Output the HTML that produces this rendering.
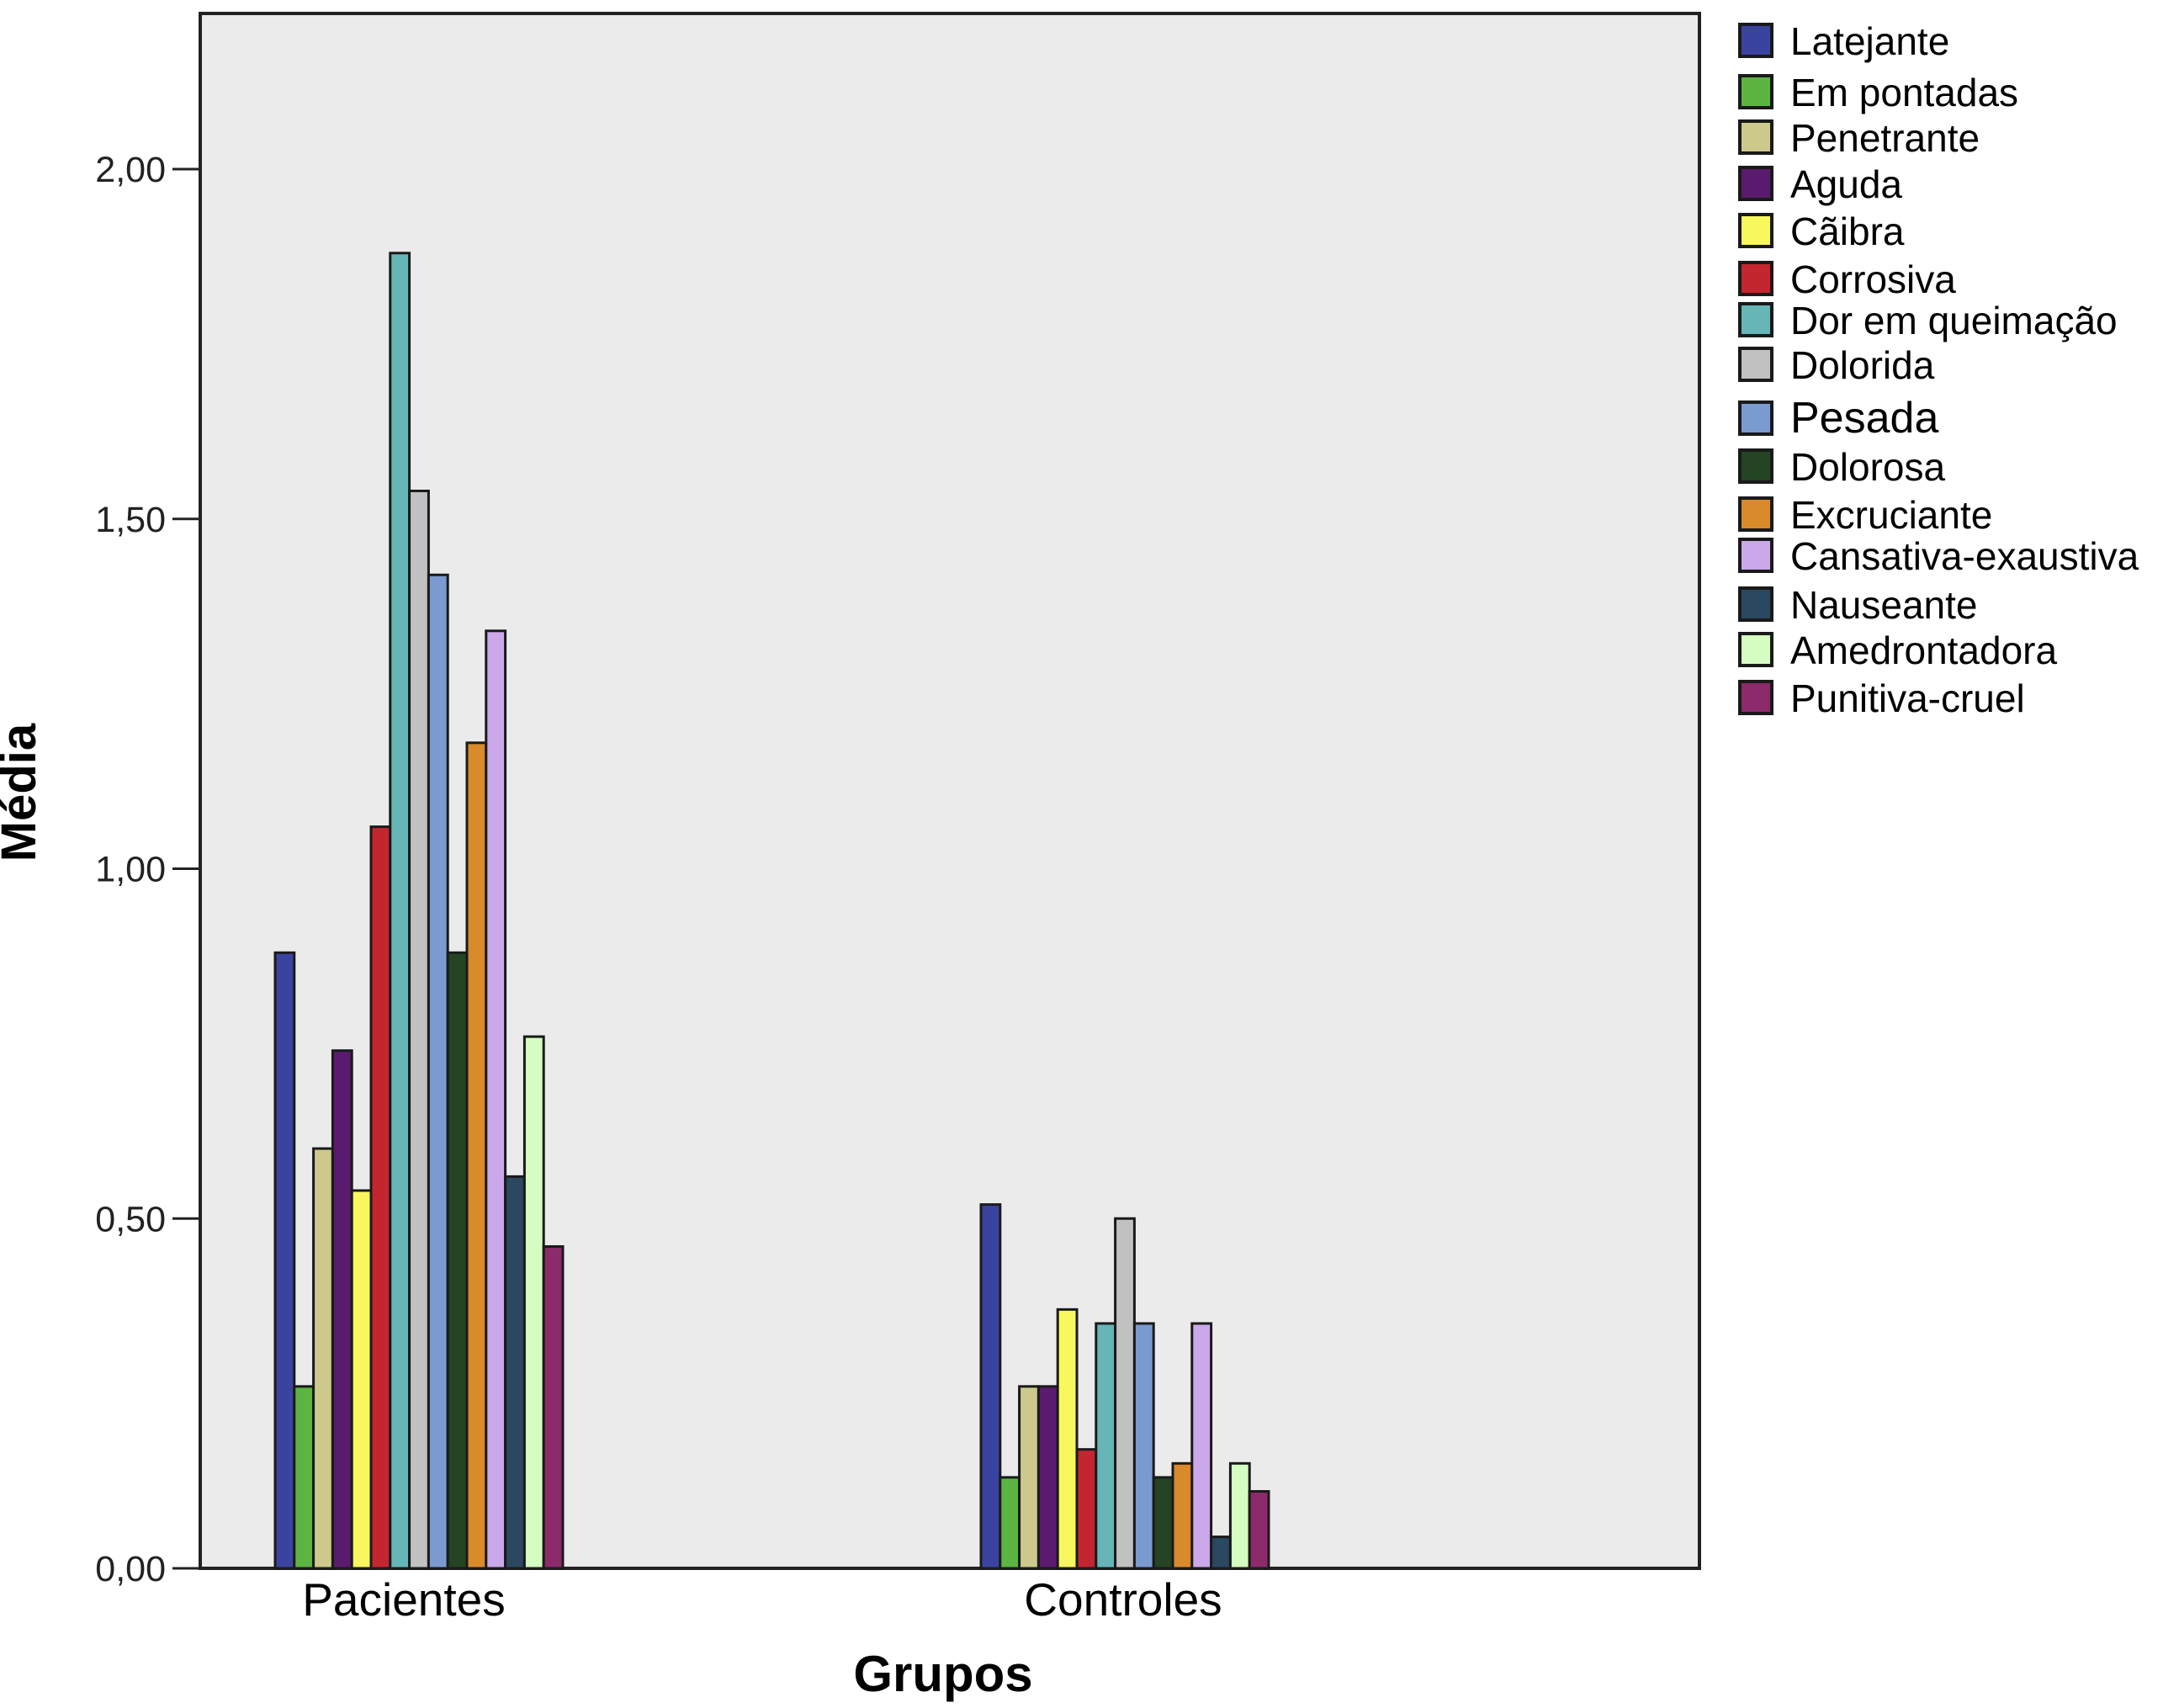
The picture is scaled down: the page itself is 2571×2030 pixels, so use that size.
<!DOCTYPE html>
<html><head><meta charset="utf-8"><style>
html,body{margin:0;padding:0;background:#fff;}
svg{display:block;font-family:"Liberation Sans",Arial,sans-serif;}
</style></head><body>
<svg id="chart" width="2571" height="2030" viewBox="0 0 2571 2030">
<rect x="238" y="16" width="1782" height="1848" fill="#ebebeb" stroke="#222" stroke-width="4"/>
<g id="yaxis"></g>
<g id="bars"></g>
<g id="xaxis"></g>
<g id="legend"></g>
<text x="42" y="942" transform="rotate(-90 42 942)" text-anchor="middle" font-size="58" font-weight="bold">Média</text>
<text x="1121" y="2010" text-anchor="middle" font-size="60" font-weight="bold">Grupos</text>
</svg>
<script>
const categories = ["Pacientes","Controles"];
const seriesNames = ["Latejante","Em pontadas","Penetrante","Aguda","Cãibra","Corrosiva","Dor em queimação","Dolorida","Pesada","Dolorosa","Excruciante","Cansativa-exaustiva","Nauseante","Amedrontadora","Punitiva-cruel"];
const seriesColors = ["#3a44a0","#5cb443","#cdc98c","#5a1b6e","#f8f85e","#c4262f","#66b6b8","#c1c1c1","#7b9ad0","#244424","#d98a2b","#cba8e9","#2a4860","#d6fdc1","#8c2a6c"];
const pacientesValues = [0.88,0.26,0.60,0.74,0.54,1.06,1.88,1.54,1.42,0.88,1.18,1.34,0.56,0.76,0.46];
const controlesValues = [0.52,0.13,0.26,0.26,0.37,0.17,0.35,0.50,0.35,0.13,0.15,0.35,0.045,0.15,0.11];
const yTicks = [0,0.5,1.0,1.5,2.0];
const yTickLabels = ["0,00","0,50","1,00","1,50","2,00"];

const NS="http://www.w3.org/2000/svg";
const y0=1864, pxPerUnit=831.5;
function yScale(v){return y0 - v*pxPerUnit;}
const groupLeft=[327,1166], barW=22.8;
const labelOffset=[-18,-2];
function xScale(gi,si){return groupLeft[gi]+si*barW;}
function mk(tag,attrs,parent){const e=document.createElementNS(NS,tag);for(const k in attrs)e.setAttribute(k,attrs[k]);parent.appendChild(e);return e;}

const yg=document.getElementById('yaxis');
yTicks.forEach((t,i)=>{
  const l=mk('line',{x1:205,x2:238,y1:yScale(t),y2:yScale(t),stroke:'#222','stroke-width':3},yg);
  
  
  const tx=mk('text',{x:197,y:yScale(t)+15,'text-anchor':'end','font-size':43,fill:'#222'},yg);
  tx.textContent=yTickLabels[i];
  
  
});

const bg=document.getElementById('bars');
[pacientesValues,controlesValues].forEach((vals,gi)=>{
  vals.forEach((v,si)=>{
    const r=mk('rect',{x:xScale(gi,si),y:yScale(v),width:barW,height:y0-yScale(v),fill:seriesColors[si],stroke:'#1a1a1a','stroke-width':3},bg);
    
    
  });
});

const xg=document.getElementById('xaxis');
categories.forEach((c,gi)=>{
  const cx=groupLeft[gi]+barW*7.5+labelOffset[gi];
  const tx=mk('text',{x:cx,y:1920,'text-anchor':'middle','font-size':55},xg);
  tx.textContent=c;
  
  
});

const lg=document.getElementById('legend');
const legendY=[49,110,164,219,275,332,381,434,498,555,612,661,719,773,830];
seriesNames.forEach((n,i)=>{
  const r=mk('rect',{x:2068,y:legendY[i]-20,width:38,height:38,fill:seriesColors[i],stroke:'#1a1a1a','stroke-width':4},lg);
  
  
  const tx=mk('text',{x:2128,y:legendY[i]+16,'font-size':(n==='Pesada'?52:46)},lg);
  tx.textContent=n;
  
  
});
</script>
</body></html>
